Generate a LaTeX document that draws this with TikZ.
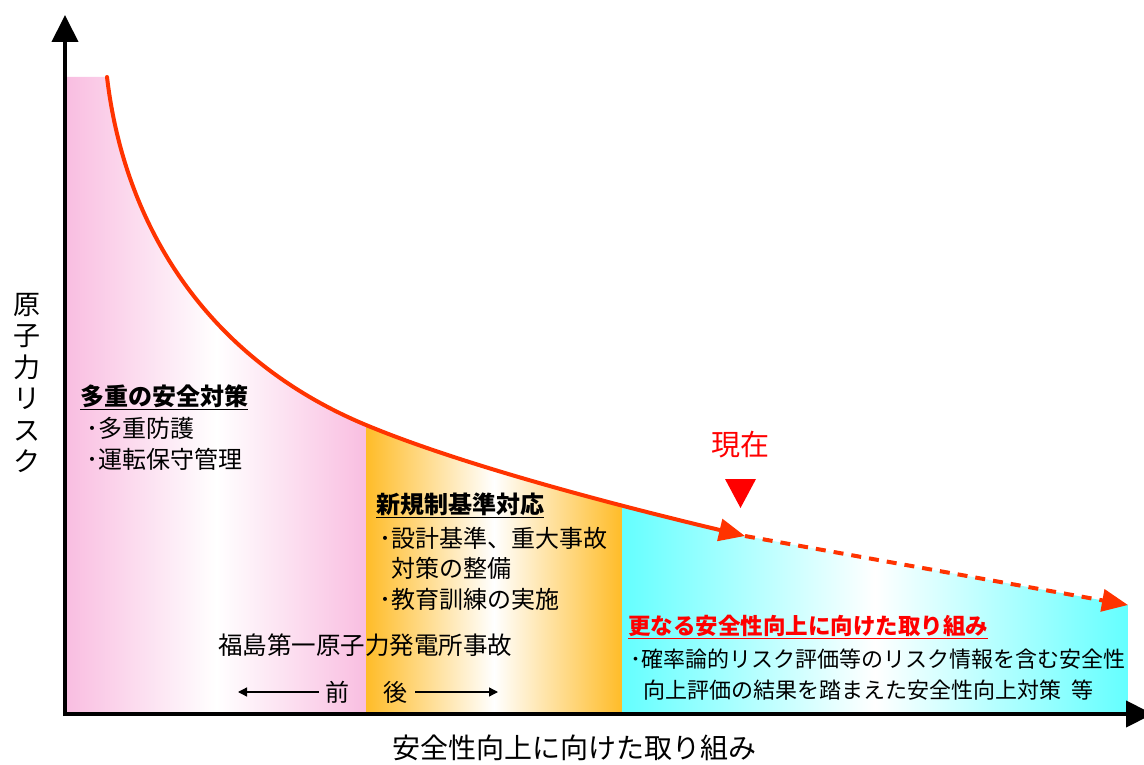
\documentclass[tikz,border=0pt]{standalone}
\usepackage{fontspec}
\setmainfont{Noto Sans CJK JP}
\usetikzlibrary{arrows.meta}
\definecolor{pinkc}{RGB}{249,190,225}
\definecolor{orangec}{RGB}{255,188,40}
\definecolor{cyanc}{RGB}{100,255,255}
\definecolor{curvec}{RGB}{255,51,0}
\definecolor{redc}{RGB}{255,0,0}
\begin{document}
\begin{tikzpicture}[x=1pt,y=-1pt,
  txt/.style={anchor=west,inner sep=0pt,font=\fontsize{24}{28}\selectfont},
  headtxt/.style={anchor=west,inner sep=0pt,font=\bfseries\fontsize{24}{28}\selectfont},
  smalltxt/.style={anchor=west,inner sep=0pt,font=\fontsize{22}{26}\selectfont},
  axisline/.style={line width=4pt,-{Triangle[length=27pt,width=26pt]}},
  riskline/.style={line width=4pt,curvec,line cap=round},
  tinyarrow/.style={line width=1.3pt,-{Triangle[length=9pt,width=9pt]}}]
\useasboundingbox (0,0) rectangle (1144,765);

% named points
\coordinate (ystart) at (65,716);
\coordinate (ytip) at (65,15);
\coordinate (xstart) at (63,714);
\coordinate (xtip) at (1153,714);
\coordinate (top) at (107,77);
\coordinate (mid) at (366,425);
\coordinate (now) at (745,536);
\coordinate (future) at (1128,605);

% coloured regions under the curve
\begin{scope}
\clip (67,77) -- (top) .. controls (125,230) and (210,360) .. (mid)
  .. controls (470,468.4) and (640,511) .. (now)
  -- (future) -- (1128,712) -- (67,712) -- cycle;
\shade[left color=pinkc,right color=pinkc,middle color=white] (67,60) rectangle (366,712);
\shade[left color=orangec,right color=orangec,middle color=white] (366,60) rectangle (622,712);
\shade[left color=cyanc,right color=cyanc,middle color=white] (622,60) rectangle (1128,712);
\end{scope}

% risk curve
\draw[riskline,-{Triangle[length=26pt,width=22pt]}] (top) .. controls (125,230) and (210,360) .. (mid)
  .. controls (470,468.4) and (640,511) .. (now);
\draw[riskline,line cap=butt,dash pattern=on 10pt off 8pt,-{Triangle[length=26pt,width=22pt]}] (now) -- (future);

% axes
\draw[axisline] (ystart) -- (ytip);
\draw[axisline] (xstart) -- (xtip);

% axis labels
\node[inner sep=0pt,align=center,font=\fontsize{27}{31.5}\selectfont] (ylab) at (27,383) {原\\子\\力\\リ\\ス\\ク};
\node[inner sep=0pt,font=\fontsize{28}{32}\selectfont] (xlab) at (574,748) {安全性向上に向けた取り組み};

% left block
\node[headtxt] (h1) at (80,397) {\underline{多重の安全対策}};
\node[txt] (a1) at (86,428) {･多重防護};
\node[txt] (a2) at (86,459) {･運転保守管理};

% middle block
\node[headtxt] (h2) at (376,505) {\underline{新規制基準対応}};
\node[txt] (b1) at (379,538) {･設計基準、重大事故};
\node[txt] (b2) at (391,568) {対策の整備};
\node[txt] (b3) at (379,599) {･教育訓練の実施};

% accident
\node[inner sep=0pt,font=\fontsize{24.5}{28}\selectfont] (fuku) at (365,645) {福島第一原子力発電所事故};
\node[inner sep=0pt,font=\fontsize{24}{28}\selectfont] (mae) at (337,692) {前};
\node[inner sep=0pt,font=\fontsize{24}{28}\selectfont] (ato) at (395,692) {後};
\coordinate (maeL) at (238,692);
\coordinate (atoR) at (498,692);
\draw[tinyarrow] ([xshift=-6pt]mae.west) -- (maeL);
\draw[tinyarrow] ([xshift=8pt]ato.east) -- (atoR);

% now marker
\node[inner sep=0pt,text=redc,font=\fontsize{29}{32}\selectfont] (genzai) at (740,445) {現在};
\fill[redc] (725,479) -- (756,479) -- (740.5,508) -- cycle;

% right block
\node[smalltxt,text=redc,font=\bfseries\fontsize{22.5}{26}\selectfont] (h3) at (628,627) {\underline{更なる安全性向上に向けた取り組み}};
\node[smalltxt] (c1) at (630,659) {･確率論的リスク評価等のリスク情報を含む安全性};
\node[smalltxt] (c2) at (643,690) {向上評価の結果を踏まえた安全性向上対策\hspace{10pt}等};
\end{tikzpicture}
\end{document}
